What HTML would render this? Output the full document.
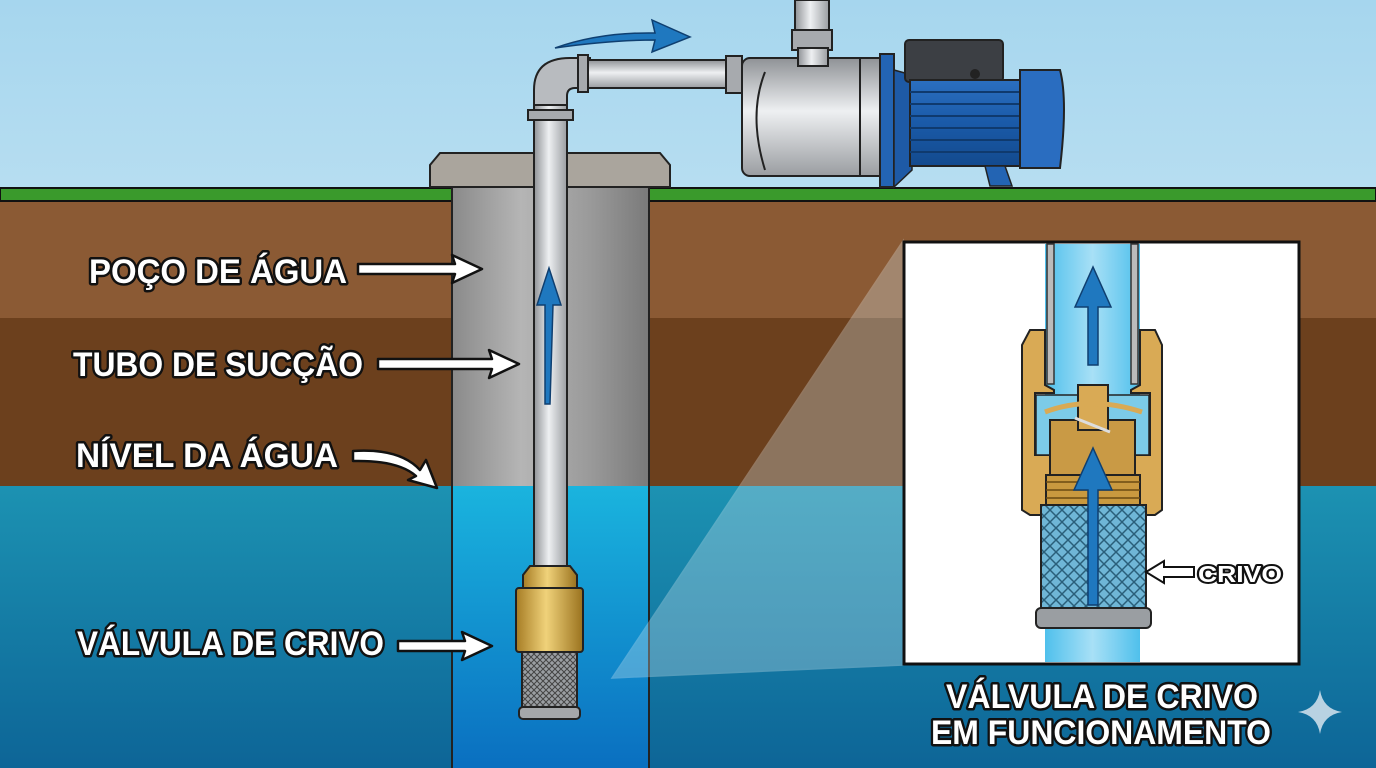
<!DOCTYPE html>
<html><head><meta charset="utf-8"><style>html,body{margin:0;padding:0;overflow:hidden}svg{display:block}
.lbl{font-family:"Liberation Sans",sans-serif;font-weight:bold;fill:#fff;stroke:#111;stroke-width:5px;paint-order:stroke;stroke-linejoin:round}</style></head>
<body>
<svg width="1376" height="768" viewBox="0 0 1376 768" xmlns="http://www.w3.org/2000/svg">
<defs>
<linearGradient id="sky" x1="0" y1="0" x2="0" y2="1"><stop offset="0" stop-color="#a6d6ee"/><stop offset="1" stop-color="#e9f5fa"/></linearGradient>
<linearGradient id="water" x1="0" y1="0" x2="0" y2="1"><stop offset="0" stop-color="#1c92b2"/><stop offset="1" stop-color="#0d6597"/></linearGradient>
<linearGradient id="wellw" x1="0" y1="0" x2="0" y2="1"><stop offset="0" stop-color="#1ab4de"/><stop offset="1" stop-color="#0a6fc0"/></linearGradient>
<linearGradient id="conc" x1="0" y1="0" x2="1" y2="0"><stop offset="0" stop-color="#8a8a8a"/><stop offset="0.35" stop-color="#b5b5b5"/><stop offset="0.7" stop-color="#9a9a9a"/><stop offset="1" stop-color="#7a7a7a"/></linearGradient>
<linearGradient id="pipe" x1="0" y1="0" x2="1" y2="0"><stop offset="0" stop-color="#8f9296"/><stop offset="0.45" stop-color="#eef0f2"/><stop offset="1" stop-color="#9a9da1"/></linearGradient>
<linearGradient id="pipeh" x1="0" y1="0" x2="0" y2="1"><stop offset="0" stop-color="#8f9296"/><stop offset="0.45" stop-color="#eef0f2"/><stop offset="1" stop-color="#9a9da1"/></linearGradient>
<linearGradient id="brass" x1="0" y1="0" x2="1" y2="0"><stop offset="0" stop-color="#a67c24"/><stop offset="0.45" stop-color="#f0d27a"/><stop offset="1" stop-color="#9a721e"/></linearGradient>
<linearGradient id="blue" x1="0" y1="0" x2="0" y2="1"><stop offset="0" stop-color="#2b6fc0"/><stop offset="0.5" stop-color="#1a5aa8"/><stop offset="1" stop-color="#134a8e"/></linearGradient>
<linearGradient id="ipipe" x1="0" y1="0" x2="1" y2="0"><stop offset="0" stop-color="#4fc0ec"/><stop offset="0.5" stop-color="#a8e0f6"/><stop offset="1" stop-color="#4fc0ec"/></linearGradient>
<pattern id="mesh" width="6" height="6" patternUnits="userSpaceOnUse"><rect width="6" height="6" fill="#9a9ea2"/><path d="M0 0L6 6M6 0L0 6" stroke="#444" stroke-width="1"/></pattern>
<pattern id="mesh2" width="12" height="12" patternUnits="userSpaceOnUse"><rect width="12" height="12" fill="#6fb6d6"/><path d="M0 0L12 12M12 0L0 12" stroke="#2a5f7a" stroke-width="1.5"/></pattern>
</defs>
<rect width="1376" height="768" fill="url(#sky)"/>
<rect y="200" width="1376" height="120" fill="#8b5a34"/>
<rect y="318" width="1376" height="170" fill="#6c401d"/>
<rect y="486" width="1376" height="282" fill="url(#water)"/>
<rect y="188" width="1376" height="13" fill="#3a9a2c" stroke="#111" stroke-width="2"/>
<!-- well -->
<rect x="452" y="170" width="197" height="600" fill="url(#conc)" stroke="#222" stroke-width="2"/>
<rect x="453" y="486" width="195" height="282" fill="url(#wellw)"/>
<path d="M430 165 L440 153 L660 153 L670 165 L670 187 L430 187Z" fill="#aaa59d" stroke="#222" stroke-width="2"/>
<!-- translucent zoom cone -->
<polygon points="612,678 903,241 903,665" fill="#d8ecf3" opacity="0.3" stroke="#e9f4f8" stroke-width="1.5"/>
<!-- suction pipe -->
<rect x="534" y="100" width="33" height="470" fill="url(#pipe)" stroke="#222" stroke-width="2"/>
<path d="M534 105 L534 90 Q534 58 570 58 L590 58 L590 88 L575 88 Q567 88 567 96 L567 105Z" fill="#b8bbbf" stroke="#222" stroke-width="2"/>
<rect x="528" y="110" width="45" height="10" fill="#a7aaae" stroke="#222" stroke-width="2"/>
<rect x="578" y="55" width="10" height="37" fill="#a7aaae" stroke="#222" stroke-width="2"/>
<rect x="588" y="60" width="140" height="28" fill="url(#pipeh)" stroke="#222" stroke-width="2"/>
<rect x="726" y="56" width="16" height="37" fill="#a7aaae" stroke="#222" stroke-width="2"/>
<!-- blue flow arrows -->
<path d="M555 48 Q600 32 655 33 L652 20 L690 37 L652 52 L655 40 Q610 40 555 48Z" fill="#1f78bf" stroke="#0f3f70" stroke-width="1.5"/>
<path d="M545 404 L545 305 L537 305 L549 268 L561 305 L553 305 L550 404Z" fill="#1f78bf" stroke="#0f3f70" stroke-width="1.5"/>
<!-- pump -->
<rect x="795" y="0" width="34" height="32" fill="url(#pipe)" stroke="#222" stroke-width="2"/>
<rect x="792" y="30" width="40" height="20" fill="#a7aaae" stroke="#222" stroke-width="2"/>
<rect x="742" y="58" width="140" height="118" rx="8" fill="url(#pipeh)" stroke="#222" stroke-width="2"/>
<path d="M765 72 Q748 115 765 170" fill="none" stroke="#222" stroke-width="2"/>
<rect x="798" y="48" width="30" height="18" fill="url(#pipe)" stroke="#222" stroke-width="2"/>
<rect x="860" y="58" width="22" height="118" fill="url(#pipeh)" stroke="#222" stroke-width="2"/>
<rect x="880" y="54" width="14" height="133" fill="#2364b3" stroke="#222" stroke-width="2"/>
<path d="M894 70 L912 75 L912 170 L894 187Z" fill="#1e5aa6" stroke="#222" stroke-width="1.5"/>
<rect x="905" y="40" width="98" height="42" rx="4" fill="#3c3f44" stroke="#222" stroke-width="2"/>
<rect x="910" y="80" width="115" height="86" fill="url(#blue)" stroke="#222" stroke-width="2"/>
<g stroke="#0f3a6e" stroke-width="2"><line x1="910" y1="92" x2="1025" y2="92"/><line x1="910" y1="104" x2="1025" y2="104"/><line x1="910" y1="116" x2="1025" y2="116"/><line x1="910" y1="128" x2="1025" y2="128"/><line x1="910" y1="140" x2="1025" y2="140"/><line x1="910" y1="152" x2="1025" y2="152"/></g>
<path d="M1020 70 L1060 70 Q1068 100 1060 168 L1020 168Z" fill="#2a6dc0" stroke="#222" stroke-width="2"/>
<circle cx="975" cy="74" r="5" fill="#222"/>
<path d="M985 166 L990 186 L1012 186 L1005 166Z" fill="#2364b3" stroke="#222" stroke-width="1.5"/>
<!-- valve -->
<path d="M523 575 L530 566 L570 566 L577 575 L577 590 L523 590Z" fill="url(#brass)" stroke="#222" stroke-width="2"/>
<rect x="516" y="588" width="67" height="64" rx="3" fill="url(#brass)" stroke="#222" stroke-width="2"/>
<rect x="522" y="652" width="55" height="58" fill="url(#mesh)" stroke="#222" stroke-width="2"/>
<rect x="519" y="707" width="61" height="12" rx="4" fill="#a4a7aa" stroke="#222" stroke-width="2"/>
<!-- inset -->
<rect x="904" y="242" width="395" height="422" fill="#fff" stroke="#111" stroke-width="3"/>
<rect x="1045" y="244" width="95" height="418" fill="url(#ipipe)"/>
<rect x="1047" y="244" width="7" height="140" fill="#bbb" stroke="#333" stroke-width="1.5"/>
<rect x="1131" y="244" width="7" height="140" fill="#bbb" stroke="#333" stroke-width="1.5"/>
<path d="M1030 330 L1045 330 L1045 385 L1054 390 L1054 393 L1035 393 L1035 455 L1150 455 L1150 393 L1131 393 L1131 390 L1140 385 L1140 330 L1155 330 L1162 345 L1162 510 L1155 515 L1030 515 L1022 510 L1022 345Z" fill="#d9aa55" stroke="#222" stroke-width="2"/>
<rect x="1036" y="395" width="113" height="60" fill="#7ccbe8" stroke="#222" stroke-width="1.5"/>
<rect x="1050" y="420" width="85" height="60" fill="#c99a45" stroke="#222" stroke-width="2"/>
<rect x="1078" y="385" width="30" height="45" fill="#d9aa55" stroke="#222" stroke-width="2"/>
<path d="M1045 412 Q1090 395 1142 412" fill="none" stroke="#d9aa55" stroke-width="5"/>
<path d="M1075 418 L1110 432" stroke="#ddd" stroke-width="3"/>
<rect x="1046" y="475" width="94" height="30" fill="#c9993f" stroke="#222" stroke-width="2"/>
<g stroke="#6a4a12" stroke-width="1.5"><line x1="1046" y1="482" x2="1140" y2="482"/><line x1="1046" y1="490" x2="1140" y2="490"/><line x1="1046" y1="498" x2="1140" y2="498"/></g>
<rect x="1041" y="505" width="105" height="105" fill="url(#mesh2)" stroke="#222" stroke-width="2"/>
<rect x="1036" y="608" width="115" height="20" rx="5" fill="#9a9ea2" stroke="#222" stroke-width="2"/>
<path d="M1088 365 L1088 307 L1075 307 L1093 267 L1111 307 L1098 307 L1098 365Z" fill="#1f78bf" stroke="#0f3f70" stroke-width="1.5"/>
<path d="M1088 605 L1088 490 L1074 490 L1093 448 L1112 490 L1098 490 L1098 605Z" fill="#1f78bf" stroke="#0f3f70" stroke-width="1.5"/>
<path d="M1146 572 L1164 561 L1164 567 L1194 567 L1194 577 L1164 577 L1164 583Z" fill="#fff" stroke="#111" stroke-width="2"/>
<text class="lbl" x="1198" y="582" font-size="23" textLength="84" lengthAdjust="spacingAndGlyphs" style="stroke-width:4px">CRIVO</text>
<!-- labels -->
<g fill="#fff" stroke="#111" stroke-width="2.5" stroke-linejoin="round">
<path d="M358 264 L455 264 L452 255 L482 269 L452 283 L455 274 L358 274Z"/>
<path d="M378 359 L492 359 L489 350 L519 364 L489 378 L492 369 L378 369Z"/>
<path d="M398 641 L465 641 L462 632 L492 646 L462 660 L465 651 L398 651Z"/>
<path d="M353 451 Q400 448 420 470 L426 460 L437 488 L408 480 L416 476 Q398 460 353 461Z"/>
</g>
<text class="lbl" x="89" y="283" font-size="34" textLength="258" lengthAdjust="spacingAndGlyphs">POÇO DE ÁGUA</text>
<text class="lbl" x="73" y="376" font-size="34" textLength="290" lengthAdjust="spacingAndGlyphs">TUBO DE SUCÇÃO</text>
<text class="lbl" x="76" y="467" font-size="34" textLength="262" lengthAdjust="spacingAndGlyphs">NÍVEL DA ÁGUA</text>
<text class="lbl" x="77" y="655" font-size="34" textLength="307" lengthAdjust="spacingAndGlyphs">VÁLVULA DE CRIVO</text>
<text class="lbl" x="946" y="708" font-size="34" textLength="312" lengthAdjust="spacingAndGlyphs">VÁLVULA DE CRIVO</text>
<text class="lbl" x="931" y="744" font-size="34" textLength="340" lengthAdjust="spacingAndGlyphs">EM FUNCIONAMENTO</text>
<path d="M1320 690 Q1323 709 1342 712 Q1323 715 1320 734 Q1317 715 1298 712 Q1317 709 1320 690Z" fill="#d6e4ee" opacity="0.85"/>
</svg>
</body></html>
